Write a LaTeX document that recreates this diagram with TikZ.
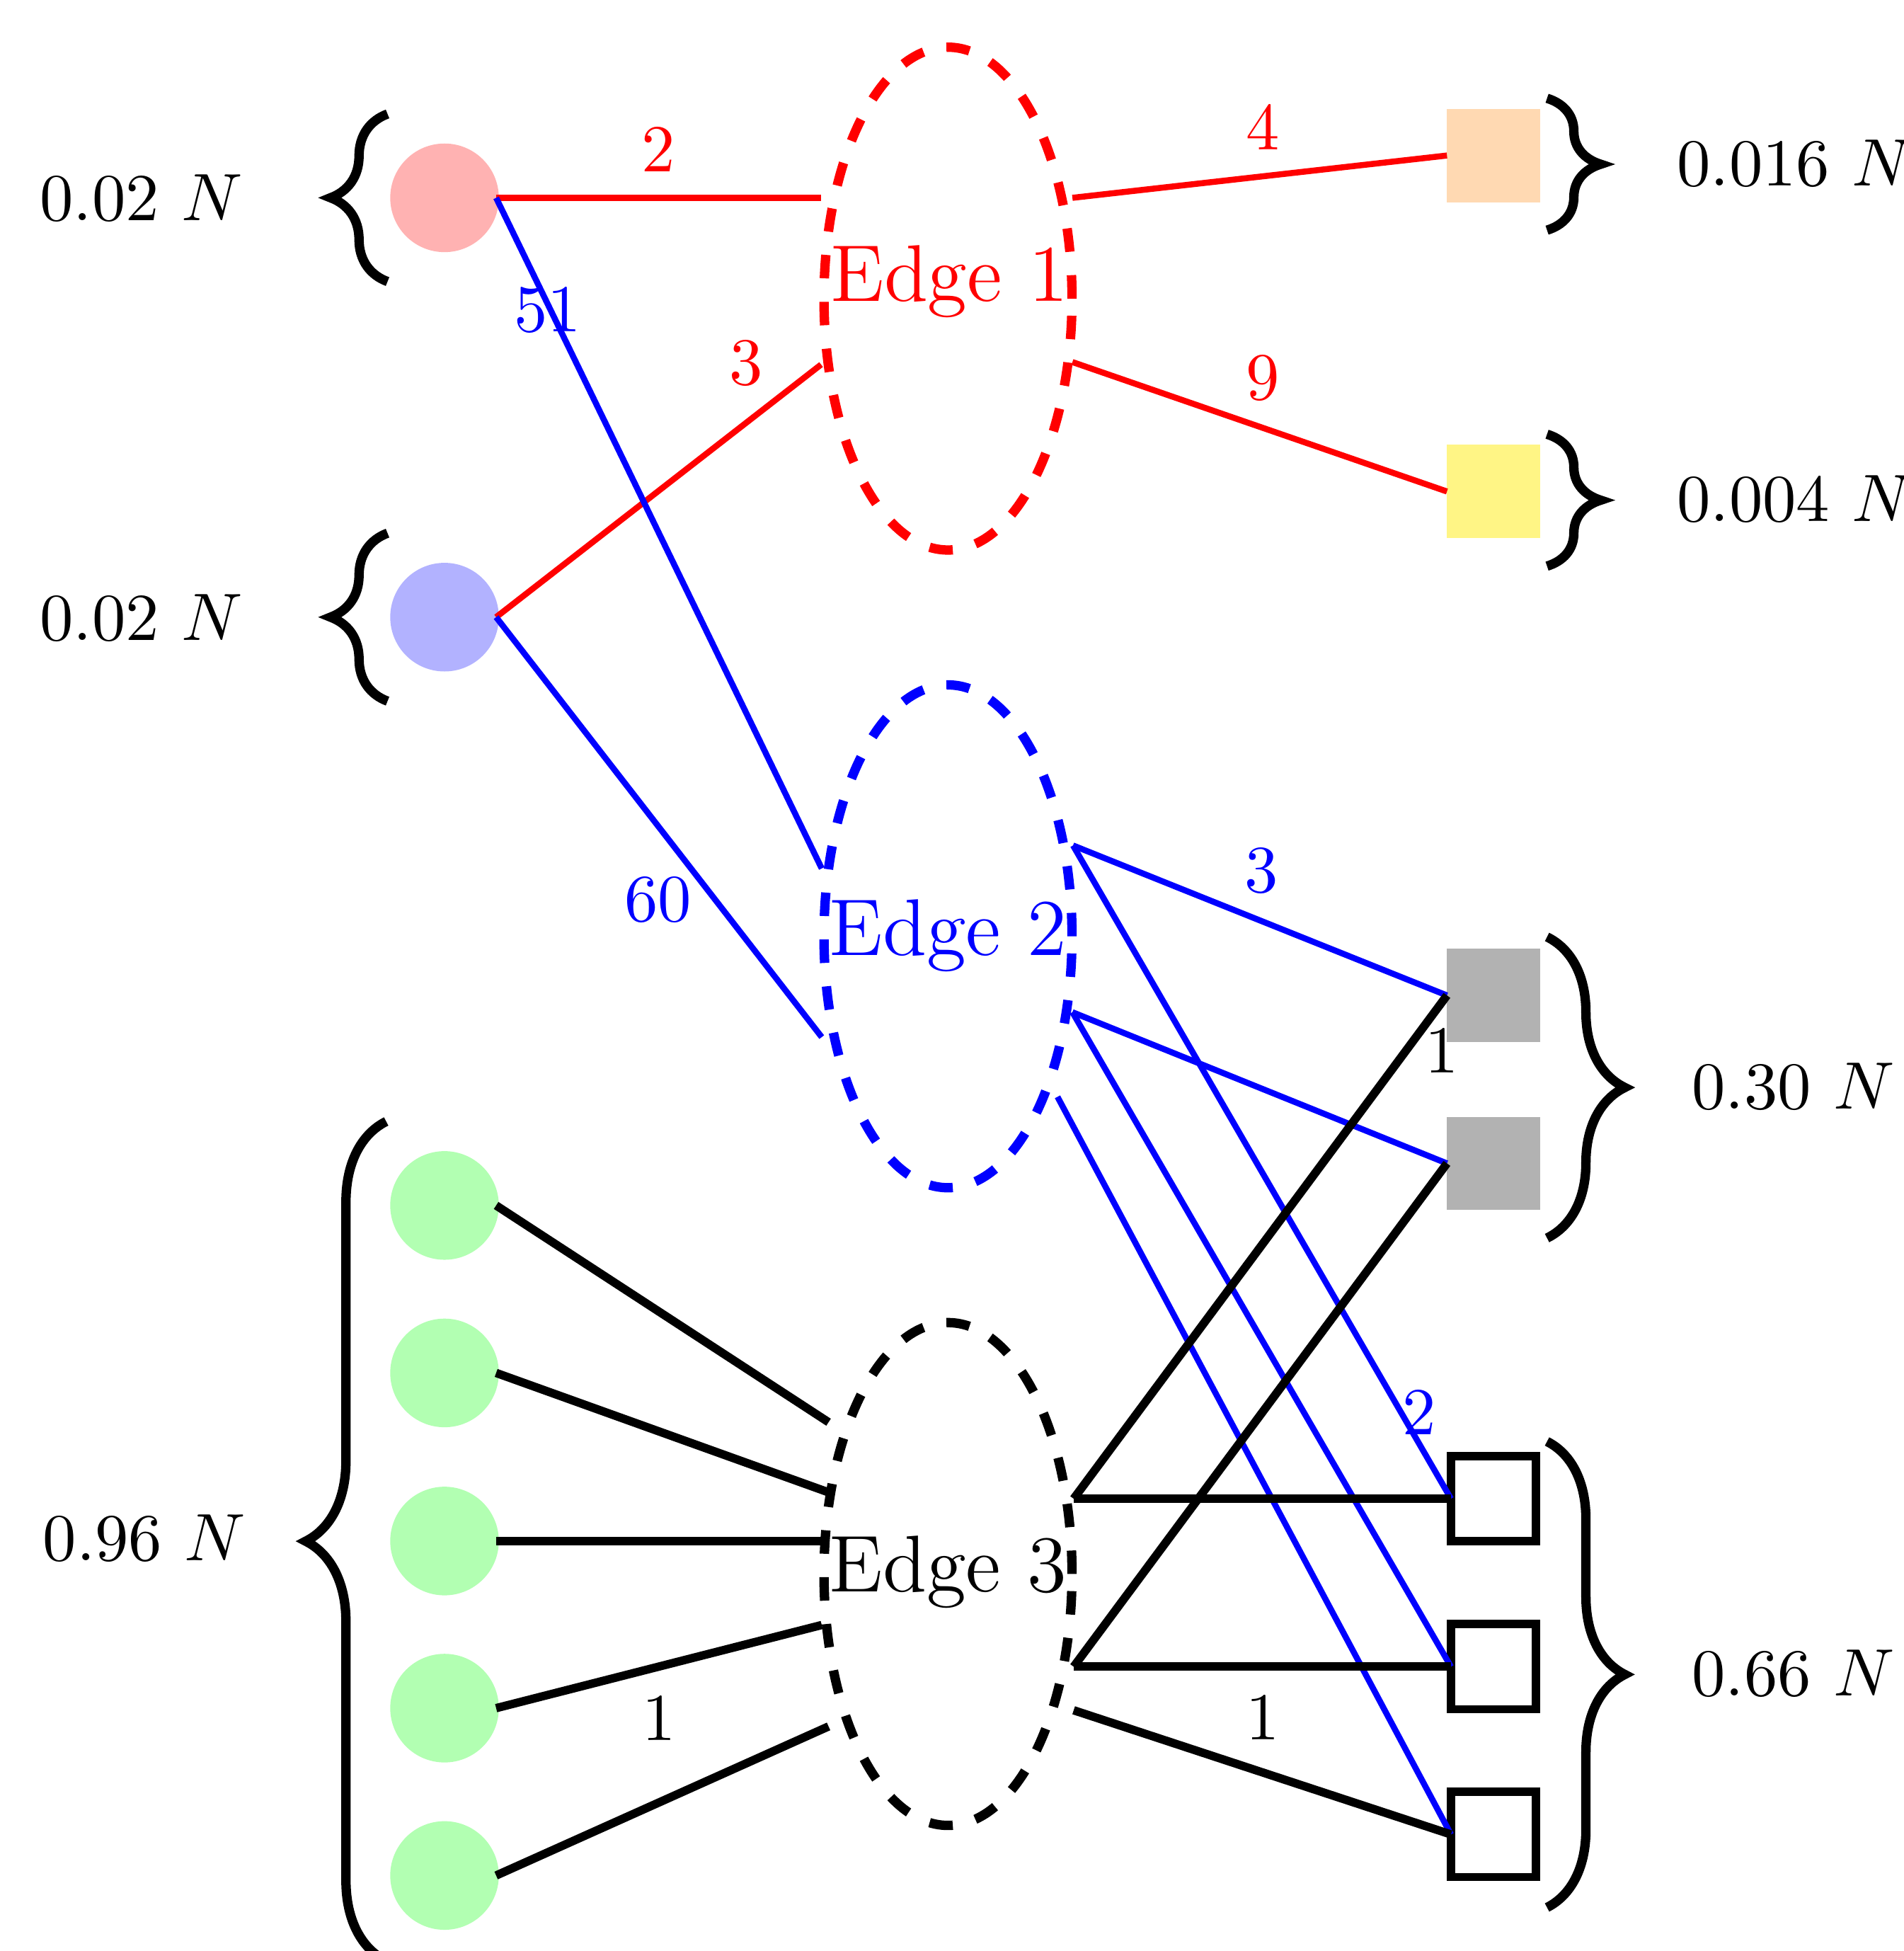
\documentclass[tikz,border=0pt]{standalone}
\usetikzlibrary{shapes.geometric,decorations.pathreplacing}
\definecolor{paleyellow}{RGB}{255,245,133}
\begin{document}
\begin{tikzpicture}[x=0.1856pt,y=-0.1856pt,
  dot/.style={circle,inner sep=0pt,minimum size=16.2pt,outer sep=-0.4pt},
  fsq/.style={rectangle,inner sep=0pt,minimum size=13.9pt,outer sep=0pt},
  osq/.style={rectangle,draw=black,line width=1.25pt,fill=white,inner sep=0pt,minimum size=12.7pt,outer sep=0pt},
  edgeell/.style={ellipse,line width=1.4pt,dash pattern=on 3.5pt off 3.5pt,inner sep=0pt,minimum width=37pt,minimum height=75pt,outer sep=0pt},
  rline/.style={draw=red,line width=0.9pt},
  bline/.style={draw=blue,line width=0.9pt},
  kline/.style={draw=black,line width=1.25pt},
  brc/.style={decorate,decoration={brace,amplitude=#1},line width=1.4pt},
  wlbl/.style={inner sep=0pt,anchor=west},
  lbl/.style={inner sep=0pt},
  edgetxt/.style={inner sep=0pt,font=\large}]
\useasboundingbox (0,0) rectangle (1530,1568);

% edge ellipses
\node[edgeell,draw=red] (e1) at (762,240) {};
\node[edgeell,draw=blue] (e2) at (762,752.5) {};
\node[edgeell,draw=black] (e3) at (762,1265) {};
\node[edgetxt,text=red] (t1) at (763,226.5) {Edge 1};
\node[edgetxt,text=blue] (t2) at (762,752) {Edge 2};
\node[edgetxt] (t3) at (762,1263.6) {Edge 3};

% left circles
\node[dot,fill=red!30] (c1) at (357.3,159) {};
\node[dot,fill=blue!30] (c2) at (357.3,496) {};
\node[dot,fill=green!30] (c3) at (357.3,968.8) {};
\node[dot,fill=green!30] (c4) at (357.3,1103.4) {};
\node[dot,fill=green!30] (c5) at (357.3,1238.5) {};
\node[dot,fill=green!30] (c6) at (357.3,1372.8) {};
\node[dot,fill=green!30] (c7) at (357.3,1507.3) {};

% right squares
\node[fsq,fill=orange!30] (s1) at (1200.5,125) {};
\node[fsq,fill=paleyellow] (s2) at (1200.5,395) {};
\node[fsq,fill=black!30] (s3) at (1200.5,800) {};
\node[fsq,fill=black!30] (s4) at (1200.5,935) {};
\node[osq] (s5) at (1200.5,1204.5) {};
\node[osq] (s6) at (1200.5,1339.5) {};
\node[osq] (s7) at (1200.5,1474.3) {};

% attachment points on the ellipses
\coordinate (e1l1) at (660,159);
\coordinate (e1l2) at (660,293);
\coordinate (e1r1) at (862,159);
\coordinate (e1r2) at (862,291);
\coordinate (e2l1) at (660.5,698);
\coordinate (e2l2) at (660.5,833.5);
\coordinate (e2r1) at (862.5,679.5);
\coordinate (e2r2) at (862,813.5);
\coordinate (e2r3) at (850,881.5);
\coordinate (e3l1) at (666,1143);
\coordinate (e3l2) at (665,1199);
\coordinate (e3l3) at (660.5,1238.5);
\coordinate (e3l4) at (660.5,1306);
\coordinate (e3l5) at (666,1387.5);
\coordinate (e3r1) at (863,1204.5);
\coordinate (e3r2) at (863,1339.5);
\coordinate (e3r3) at (863,1374.5);

% red connectors
\draw[rline] (c1.east) -- (e1l1);
\draw[rline] (c2.east) -- (e1l2);
\draw[rline] (e1r1) -- (s1.west);
\draw[rline] (e1r2) -- (s2.west);
% blue connectors
\draw[bline] (c1.east) -- (e2l1);
\draw[bline] (c2.east) -- (e2l2);
\draw[bline] (e2r1) -- (s3.west);
\draw[bline] (e2r1) -- (s5.west);
\draw[bline] (e2r2) -- (s4.west);
\draw[bline] (e2r2) -- (s6.west);
\draw[bline] (e2r3) -- (s7.west);
% black connectors
\draw[kline] (c3.east) -- (e3l1);
\draw[kline] (c4.east) -- (e3l2);
\draw[kline] (c5.east) -- (e3l3);
\draw[kline] (c6.east) -- (e3l4);
\draw[kline] (c7.east) -- (e3l5);
\draw[kline] (e3r1) -- (s3.west);
\draw[kline] (e3r1) -- (s5.west);
\draw[kline] (e3r2) -- (s4.west);
\draw[kline] (e3r2) -- (s6.west);
\draw[kline] (e3r3) -- (s7.west);

% connector labels
\node[lbl,text=red] (w1) at (529,120) {2};
\node[lbl,text=blue] (w2) at (440,249) {51};
\node[lbl,text=red] (w3) at (600,292) {3};
\node[lbl,text=blue] (w4) at (529,723) {60};
\node[lbl,text=red] (w5) at (1015,102) {4};
\node[lbl,text=red] (w6) at (1015,304) {9};
\node[lbl,text=blue] (w7) at (1014,700) {3};
\node[lbl] (w8) at (1159,844) {1};
\node[lbl,text=blue] (w9) at (1141,1135) {2};
\node[lbl] (w10) at (530,1381) {1};
\node[lbl] (w11) at (1015,1380) {1};

% braces
\draw[brc=8.5pt] (311.5,226.3) -- (311.5,91.6);
\draw[brc=8.5pt] (311.5,563.5) -- (311.5,428.5);
\draw[brc=12pt] (310.4,1576) -- (310.4,901.3);
\draw[brc=8pt] (1243.5,79) -- (1243.5,185);
\draw[brc=8pt] (1243.5,349) -- (1243.5,455);
\draw[brc=11.6pt] (1243.5,753) -- (1243.5,995);
\draw[brc=11.6pt] (1243.5,1158.5) -- (1243.5,1533);

% group sizes
\node[wlbl] (n1) at (31,159.6) {0.02~$N$};
\node[wlbl] (n2) at (31,496.6) {0.02~$N$};
\node[wlbl] (n3) at (33.5,1236.2) {0.96~$N$};
\node[wlbl] (n4) at (1347,131.6) {0.016~$N$};
\node[wlbl] (n5) at (1347,401.1) {0.004~$N$};
\node[wlbl] (n6) at (1359,873.6) {0.30~$N$};
\node[wlbl] (n7) at (1359,1345.3) {0.66~$N$};
\end{tikzpicture}
\end{document}
